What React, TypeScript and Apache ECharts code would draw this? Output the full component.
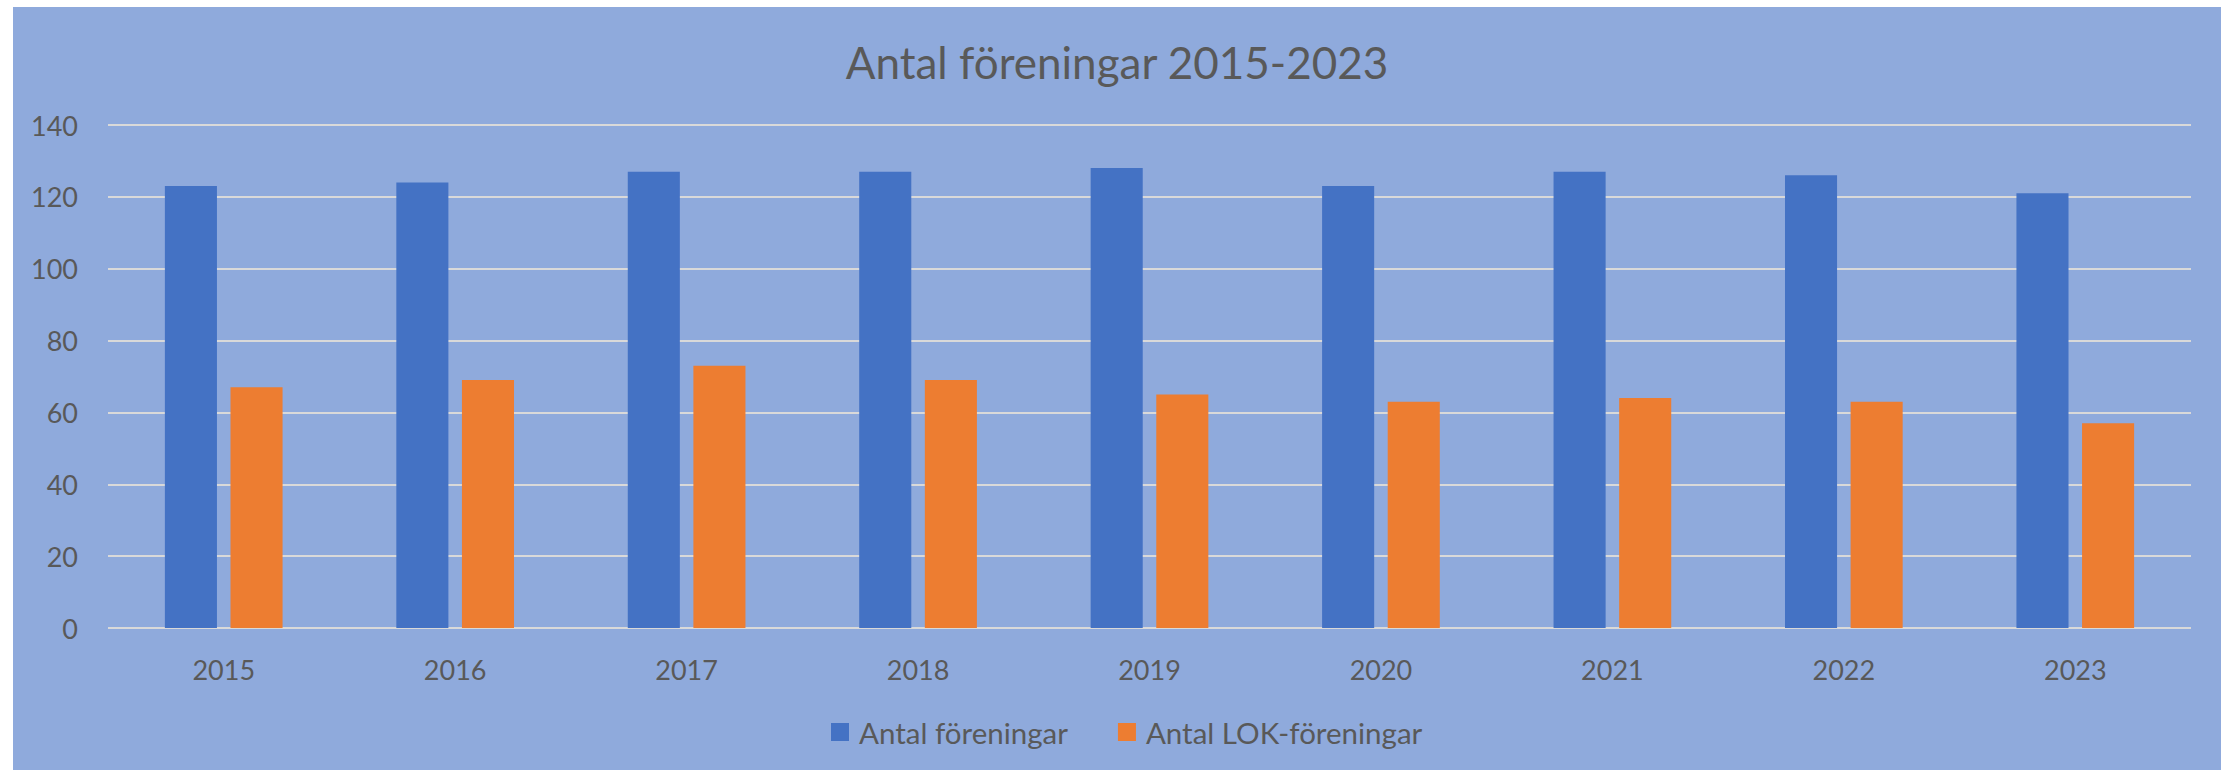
import React, { useEffect, useRef } from "react";
import * as echarts from "echarts";

const categories = ["2015", "2016", "2017", "2018", "2019", "2020", "2021", "2022", "2023"];
const antalForeningar = [123, 124, 127, 127, 128, 123, 127, 126, 121];
const antalLokForeningar = [67, 69, 73, 69, 65, 63, 64, 63, 57];
const seriesNames = ["Antal föreningar", "Antal LOK-föreningar"];
const titleText = "Antal föreningar 2015-2023";

const FONT = "Lato";
const TEXT = "#595959";

export default function App() {
  const ref = useRef<HTMLDivElement>(null);

  useEffect(() => {
    document.body.style.margin = "0";
    if (!ref.current) return;
    const chart = echarts.init(ref.current, undefined, { renderer: "svg" });
    chart.setOption({
      animation: false,
      backgroundColor: "#8FAADC",
      textStyle: { fontFamily: FONT },
      title: {
        text: titleText,
        left: "center",
        top: 28,
        textStyle: { fontFamily: FONT, fontSize: 44, fontWeight: "normal", color: TEXT },
      },
      legend: {
        data: seriesNames,
        left: 813,
        top: 705,
        itemWidth: 18,
        itemHeight: 18,
        itemGap: 50,
        icon: "rect",
        textStyle: { fontFamily: FONT, fontSize: 29.5, color: TEXT, padding: [0, 0, 0, 5] },
      },
      grid: { left: 95, right: 30, top: 118, bottom: 142, containLabel: false },
      xAxis: {
        type: "category",
        data: categories,
        axisLine: { show: false },
        axisTick: { show: false },
        axisLabel: { fontFamily: FONT, fontSize: 27, color: TEXT, margin: 28 },
      },
      yAxis: {
        type: "value",
        min: 0,
        max: 140,
        interval: 20,
        axisLine: { show: false },
        axisTick: { show: false },
        axisLabel: { fontFamily: FONT, fontSize: 27, color: TEXT, margin: 30 },
        splitLine: { lineStyle: { color: "#D9D9D9", width: 2 } },
      },
      series: [
        {
          name: seriesNames[0],
          type: "bar",
          data: antalForeningar,
          barWidth: "22.5%",
          barGap: "26%",
          itemStyle: { color: "#4472C4" },
        },
        {
          name: seriesNames[1],
          type: "bar",
          data: antalLokForeningar,
          barWidth: "22.5%",
          barGap: "26%",
          itemStyle: { color: "#ED7D31" },
        },
      ],
    });
    return () => chart.dispose();
  }, []);

  return (
    <div style={{ position: "relative", width: 2233, height: 770, background: "#ffffff", overflow: "hidden" }}>
      <div ref={ref} style={{ position: "absolute", left: 13, top: 7, width: 2208, height: 763 }} />
    </div>
  );
}
